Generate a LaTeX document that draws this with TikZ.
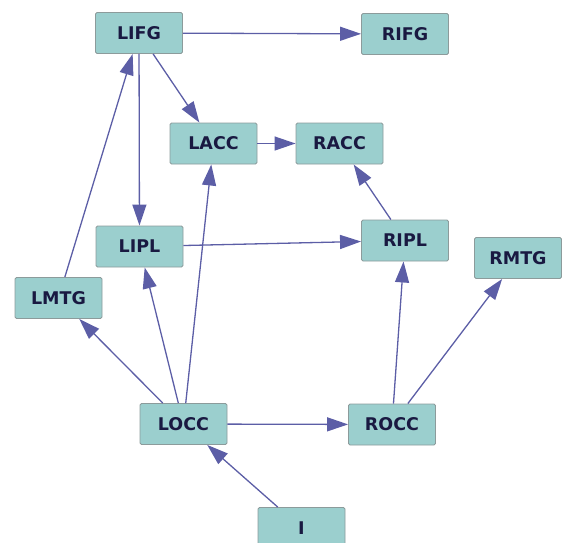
\documentclass[tikz,border=0pt]{standalone}
\usepackage{fontspec}
\newfontfamily\nodefont{DejaVu Sans}
\usetikzlibrary{arrows.meta}
\definecolor{boxfill}{RGB}{155,207,206}
\definecolor{boxline}{RGB}{140,155,155}
\definecolor{edgecol}{RGB}{92,94,166}
\definecolor{txtcol}{RGB}{25,25,65}
\tikzset{
  region/.style={draw=boxline, line width=0.9pt, fill=boxfill, rounded corners=1.5pt,
    minimum width=87pt, minimum height=41pt, inner sep=0pt,
    font=\nodefont\bfseries\fontsize{17.5}{20}\selectfont, text=txtcol},
  link/.style={draw=edgecol, line width=1.3pt, -{Triangle[length=21pt,width=14pt]}}
}
\begin{document}
\begin{tikzpicture}[x=1pt,y=-1pt]
\useasboundingbox (0,0) rectangle (562,542);
\clip (0,0) rectangle (562,542);
\node[region] (LIFG) at (139,33) {LIFG};
\node[region] (RIFG) at (405,34) {RIFG};
\node[region] (LACC) at (213.5,143.5) {LACC};
\node[region] (RACC) at (339.5,143.5) {RACC};
\node[region] (LIPL) at (139.5,246.5) {LIPL};
\node[region] (RIPL) at (405,240.5) {RIPL};
\node[region] (RMTG) at (518,258) {RMTG};
\node[region] (LMTG) at (58.5,298) {LMTG};
\node[region] (LOCC) at (183.5,424) {LOCC};
\node[region] (ROCC) at (392,424.5) {ROCC};
\node[region] (I) at (301.5,528) {I};
\draw[link] (LIFG) -- (RIFG);
\draw[link] (LIFG) -- (LACC);
\draw[link] (LIFG) -- (LIPL);
\draw[link] (LACC) -- (RACC);
\draw[link] (LIPL) -- (RIPL);
\draw[link] (RIPL) -- (RACC);
\draw[link] (LMTG) -- (LIFG);
\draw[link] (LOCC) -- (LMTG);
\draw[link] (LOCC) -- (LIPL);
\draw[link] (LOCC) -- (LACC);
\draw[link] (LOCC) -- (ROCC);
\draw[link] (ROCC) -- (RIPL);
\draw[link] (ROCC) -- (RMTG);
\draw[link] (I) -- (LOCC);
\end{tikzpicture}
\end{document}
